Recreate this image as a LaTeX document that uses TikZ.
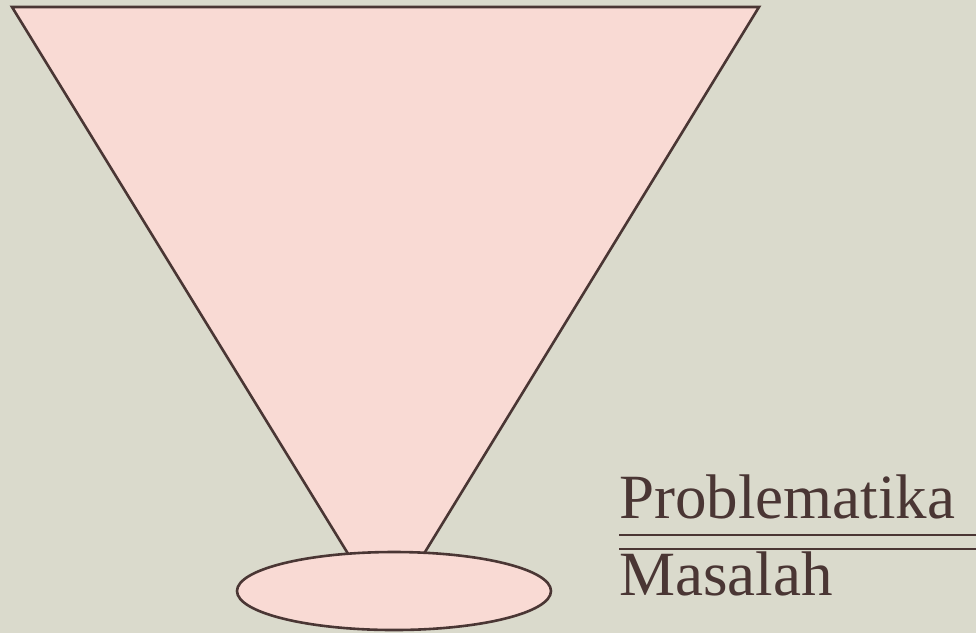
\documentclass[tikz,border=0pt]{standalone}
\usepackage{fontspec}
\setmainfont{Liberation Serif}
\usetikzlibrary{shapes.geometric}
\definecolor{bgc}{RGB}{214,214,198}
\definecolor{pinkfill}{RGB}{249,218,212}
\definecolor{edge}{RGB}{74,54,52}
\tikzset{
  shapeline/.style={draw=edge, line width=2.6pt, fill=pinkfill, line join=miter},
  label/.style={font=\fontsize{63}{63}\selectfont, text=edge, inner sep=0pt, anchor=base west},
  rule/.style={draw=edge, line width=2.8pt}
}
\begin{document}
\begin{tikzpicture}[x=1pt,y=-1pt]
\fill[bgc] (0,0) rectangle (976,633);
\useasboundingbox (0,0) rectangle (976,633);
\fill[white, opacity=0.12] (0,0) rectangle (976,633);
% funnel
\path[shapeline] (12,7) -- (759,7) -- (415.2,568) -- (356.8,568) -- cycle;
\node[ellipse, shapeline, minimum width=314pt, minimum height=78pt, inner sep=0pt] (base) at (394,591) {};
% labels
\node[label] (prob) at (619,518) {Problematika};
\node[label] (mas) at (619,595) {Masalah};
\coordinate (r1a) at (619,535);
\coordinate (r1b) at (976,535);
\coordinate (r2a) at (619,549);
\coordinate (r2b) at (976,549);
\draw[rule] (r1a) -- (r1b);
\draw[rule] (r2a) -- (r2b);
\end{tikzpicture}
\end{document}
